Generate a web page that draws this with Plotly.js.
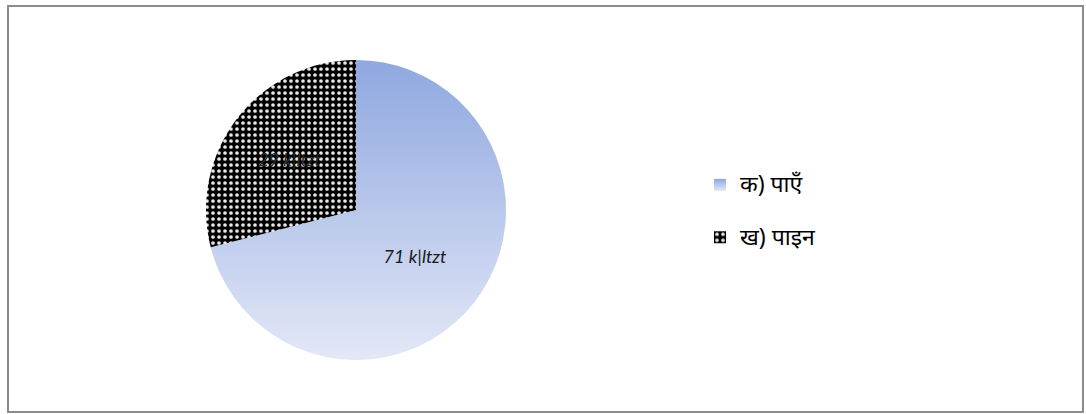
<!DOCTYPE html>
<html>
<head>
<meta charset="utf-8">
<script src="https://cdn.plot.ly/plotly-3.0.1.min.js"></script>
<style>
html,body{margin:0;padding:0;background:#fff;}
#chart{width:1086px;height:414px;}
</style>
</head>
<body>
<div id="chart"></div>
<script>
const categories = ["क) पाएँ", "ख) पाइन"];
const values = [71, 29];
const sliceLabels = ["71 k|ltzt", "29 k|ltzt"];

const W = 1086, H = 414;
const px = v => v / W, py = v => 1 - v / H;

const trace = {
  type: 'pie',
  labels: categories.map(c => '<span style="font-size:23px">' + c + '</span><br> '),
  values: values,
  text: sliceLabels,
  textinfo: 'text',
  textposition: 'inside',
  insidetextorientation: 'horizontal',
  textfont: {family: 'Lato, "Noto Sans", sans-serif', size: 18, style: 'italic', color: ['#1a1a1a', '#2a2a2a']},
  sort: false,
  direction: 'clockwise',
  rotation: 0,
  hoverinfo: 'none',
  marker: {
    colors: ['#b9c8ec', '#000000'],
    line: {width: 0},
    pattern: {
      shape: ['', '.'],
      bgcolor: ['#b9c8ec', '#000000'],
      fgcolor: ['#b9c8ec', '#e6e6e6'],
      size: 6,
      solidity: 0.3,
      fillmode: 'replace'
    }
  },
  domain: {x: [px(206), px(506)], y: [py(360), py(60)]}
};

const layout = {
  width: W, height: H,
  margin: {l: 0, r: 0, t: 0, b: 0},
  paper_bgcolor: '#ffffff',
  showlegend: true,
  legend: {
    x: px(700), y: py(166), xanchor: 'left', yanchor: 'top',
    valign: 'top',
    font: {family: '"Noto Sans", "Liberation Sans", sans-serif', size: 19, color: '#000'},
    bgcolor: 'rgba(0,0,0,0)'
  },
  shapes: [{
    type: 'rect', xref: 'paper', yref: 'paper',
    x0: px(8), x1: px(1083), y0: py(412), y1: py(6),
    line: {color: '#8c8c8c', width: 2}, fillcolor: 'rgba(0,0,0,0)', layer: 'below'
  }]
};

Plotly.newPlot('chart', [trace], layout, {displayModeBar: false, staticPlot: true}).then(gd => {
  const svg = gd.querySelector('svg.main-svg');
  const ns = 'http://www.w3.org/2000/svg';
  let defs = svg.querySelector('defs');
  if (!defs) { defs = document.createElementNS(ns, 'defs'); svg.insertBefore(defs, svg.firstChild); }
  const g = document.createElementNS(ns, 'linearGradient');
  g.setAttribute('id', 'bluegrad');
  g.setAttribute('x1', '0'); g.setAttribute('y1', '0'); g.setAttribute('x2', '0'); g.setAttribute('y2', '1');
  [['0', '#8fa8e0'], ['0.45', '#b4c4ea'], ['1', '#e3e8f6']].forEach(([o, c]) => {
    const s = document.createElementNS(ns, 'stop');
    s.setAttribute('offset', o); s.setAttribute('stop-color', c);
    g.appendChild(s);
  });
  defs.appendChild(g);
  const paths = gd.querySelectorAll('.slice path.surface');
  if (paths[0]) paths[0].style.fill = 'url(#bluegrad)';
  const lp = gd.querySelectorAll('.legendpoints path');
  if (lp[0]) lp[0].style.fill = 'url(#bluegrad)';
});
</script>
</body>
</html>
